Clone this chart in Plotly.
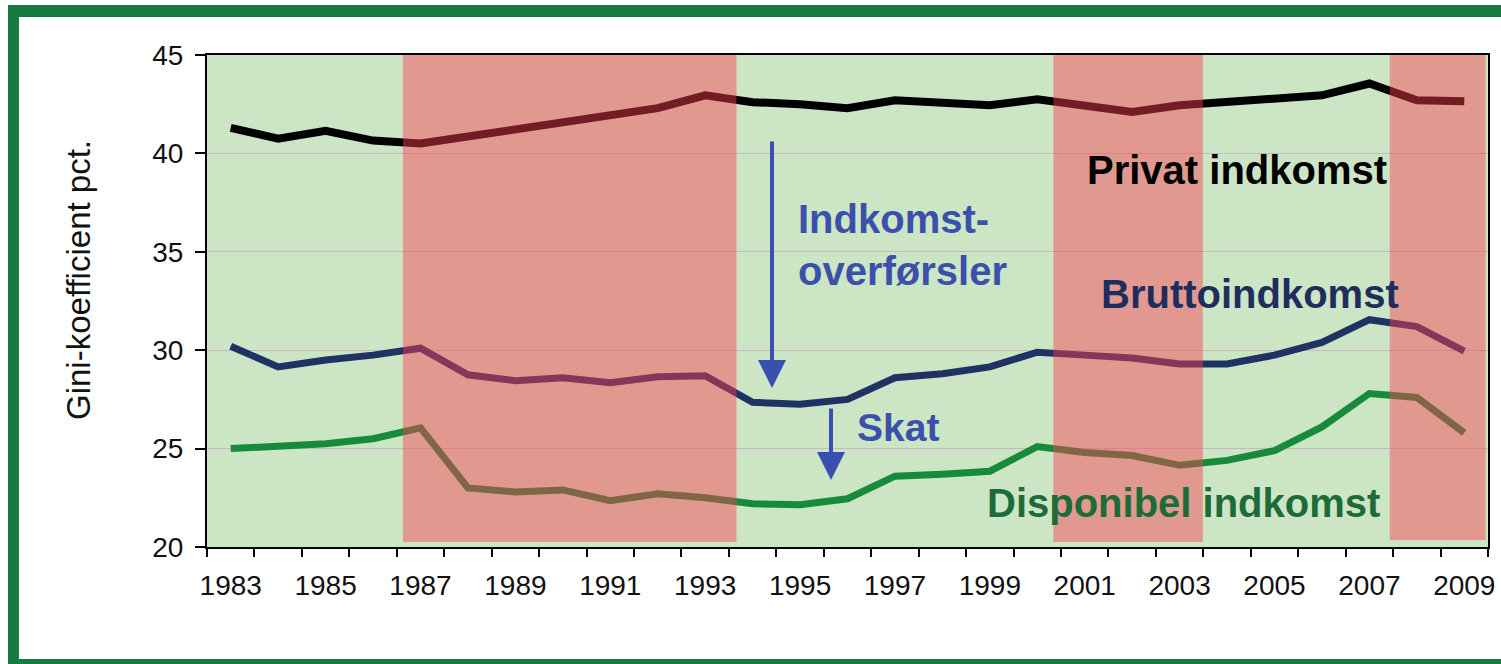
import plotly.graph_objects as go

# ---------------- data ----------------
years = list(range(1983, 2010))

privat = [41.3, 40.75, 41.15, 40.65, 40.5, 40.85, 41.25, 41.5, 41.9, 42.3,
          42.95, 42.6, 42.5, 42.3, 42.7, 42.55, 42.45, 42.75, 42.45, 42.1,
          42.45, 42.6, 42.85, 42.95, 43.55, 42.7, 42.65]

brutto = [30.2, 29.15, 29.5, 29.75, 30.1, 28.75, 28.45, 28.6, 28.35, 28.65,
          28.7, 27.35, 27.25, 27.5, 28.6, 28.8, 29.15, 29.9, 29.75, 29.6,
          29.3, 29.3, 29.75, 30.4, 31.55, 31.2, 29.95]

disponibel = [25.0, 25.1, 25.25, 25.5, 26.05, 23.0, 22.8, 22.9, 22.35, 22.7,
              22.5, 22.2, 22.15, 22.45, 23.6, 23.7, 23.85, 25.1, 24.8, 24.65,
              24.15, 24.4, 24.9, 26.1, 27.8, 27.6, 25.8]

tick_years = list(range(1983, 2010, 2))
tick_labels = [str(y) for y in tick_years]
y_title = "Gini-koefficient pct."

# shaded periods (start, end) in years
band_start = [1986.63, 2000.34, 2007.43]
band_end = [1993.66, 2003.49, 2009.45]
band_bottom = [20.25, 20.25, 20.35]

# ---------------- layout geometry ----------------
W, H = 1501, 664
ML, MR, MT, MB = 207, 13, 55, 117
PW, PH = W - ML - MR, H - MT - MB
X0, X1 = 1982.5, 2009.5
Y0, Y1 = 20, 45


def px_to_x(px):
    return X0 + (px - ML) / PW * (X1 - X0)


def py_to_y(py):
    return Y0 + (H - MB - py) / PH * (Y1 - Y0)


def px_paper(px):
    return (px - ML) / PW


def py_paper(py):
    return (H - MB - py) / PH


FONT = "Liberation Sans, Arial, sans-serif"

fig = go.Figure()

fig.add_trace(go.Scatter(x=years, y=privat, mode="lines", name="Privat indkomst",
                         line=dict(color="#000000", width=8)))
fig.add_trace(go.Scatter(x=years, y=brutto, mode="lines", name="Bruttoindkomst",
                         line=dict(color="#1e3264", width=7)))
fig.add_trace(go.Scatter(x=years, y=disponibel, mode="lines", name="Disponibel indkomst",
                         line=dict(color="#178a3c", width=7)))

shapes = []
for s, e, b in zip(band_start, band_end, band_bottom):
    shapes.append(dict(type="rect", xref="x", yref="y", x0=s, x1=e, y0=b, y1=Y1,
                       fillcolor="rgba(250,62,78,0.46)", line=dict(width=0),
                       layer="above"))

# outer green frame (top, left, bottom bars), kept inside the figure
FRAME = "#177a40"
for (a, b, c, d) in [(8, 1501, 5, 17), (8, 19, 5, 664), (8, 1501, 659, 664)]:
    shapes.append(dict(type="rect", xref="paper", yref="paper",
                       x0=px_paper(a), x1=px_paper(b),
                       y0=py_paper(d), y1=py_paper(c),
                       line=dict(width=0), fillcolor=FRAME, layer="above"))

annotations = [
    dict(x=px_paper(78), y=py_paper(280), xref="paper", yref="paper",
         text=y_title, textangle=-90, showarrow=False,
         font=dict(family=FONT, size=33, color="#111111"),
         xanchor="center", yanchor="middle"),
    dict(x=px_to_x(1237), y=py_to_y(170), text="<b>Privat indkomst</b>",
         showarrow=False, font=dict(family=FONT, size=40, color="#000000"),
         xanchor="center", yanchor="middle"),
    dict(x=px_to_x(1250), y=py_to_y(294), text="<b>Bruttoindkomst</b>",
         showarrow=False, font=dict(family=FONT, size=40, color="#1e2d5e"),
         xanchor="center", yanchor="middle"),
    dict(x=px_to_x(796), y=py_to_y(245), text="<b>Indkomst-<br>overførsler</b>",
         showarrow=False, font=dict(family=FONT, size=40, color="#3a50aa"),
         xanchor="left", yanchor="middle", align="left"),
    dict(x=px_to_x(898), y=py_to_y(427), text="<b>Skat</b>",
         showarrow=False, font=dict(family=FONT, size=39, color="#3a50aa"),
         xanchor="center", yanchor="middle"),
    dict(x=px_to_x(1183), y=py_to_y(503), text="<b>Disponibel indkomst</b>",
         showarrow=False, font=dict(family=FONT, size=40, color="#1d6b3a"),
         xanchor="center", yanchor="middle"),
    # arrows
    dict(x=px_to_x(772), y=py_to_y(388), text="", showarrow=True,
         ax=0, ay=140 - 388, axref="pixel", ayref="pixel",
         arrowhead=2, arrowsize=1.4, arrowwidth=4, arrowcolor="#3a50b0",
         standoff=0, startstandoff=0),
    dict(x=px_to_x(831), y=py_to_y(480), text="", showarrow=True,
         ax=0, ay=407 - 480, axref="pixel", ayref="pixel",
         arrowhead=2, arrowsize=1.4, arrowwidth=4, arrowcolor="#3a50b0",
         standoff=0, startstandoff=0),
]

boundaries = [y - 0.5 for y in years] + [years[-1] + 0.5]

fig.update_layout(
    width=W, height=H,
    margin=dict(l=ML, r=MR, t=MT, b=MB, pad=0, autoexpand=False),
    paper_bgcolor="#ffffff",
    plot_bgcolor="#cce5c4",
    showlegend=False,
    shapes=shapes,
    annotations=annotations,
    font=dict(family=FONT, color="#111111"),
    xaxis=dict(
        range=[X0, X1], tickvals=tick_years, ticktext=tick_labels,
        ticks="outside", ticklen=8, tickwidth=2, tickcolor="rgba(0,0,0,0)",
        tickfont=dict(family=FONT, size=28, color="#111111"),
        showgrid=False, zeroline=False, automargin=False,
        showline=True, linecolor="#000000", linewidth=2, mirror=True,
        ticklabelstandoff=4,
        minor=dict(tickvals=boundaries, ticks="outside", ticklen=8,
                   tickwidth=2, tickcolor="#000000", showgrid=False),
    ),
    yaxis=dict(
        range=[Y0, Y1], dtick=5, tick0=20,
        ticks="outside", ticklen=10, tickwidth=2, tickcolor="#000000",
        tickfont=dict(family=FONT, size=28, color="#111111"),
        showgrid=True, gridcolor="#c8b6c8", gridwidth=1, zeroline=False,
        automargin=False,
        showline=True, linecolor="#000000", linewidth=2, mirror=True,
        ticklabelstandoff=6,
    ),
)

fig.write_html("out.html", config={"displayModeBar": False},
               post_script="document.body.style.margin='0';document.body.style.padding='0';document.body.style.overflow='hidden';")
